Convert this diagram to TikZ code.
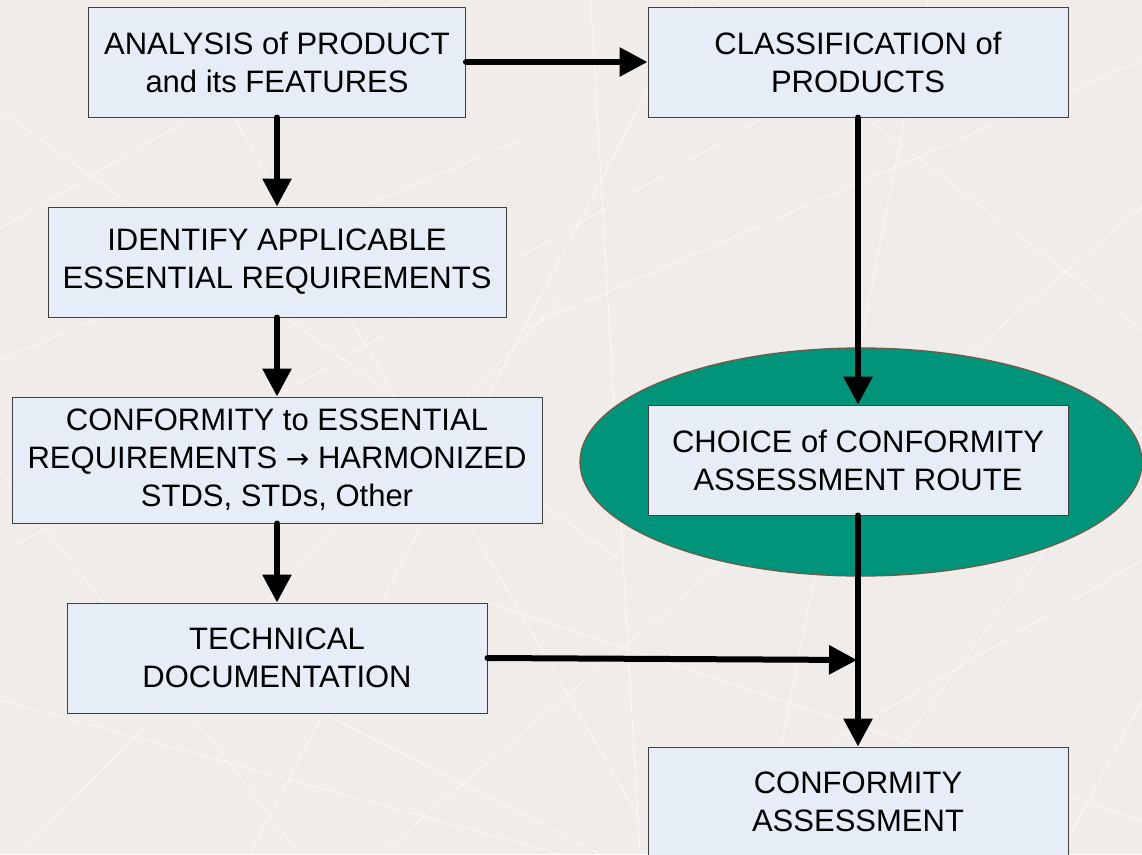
\documentclass[tikz,border=0pt]{standalone}
\usepackage{fontspec}
\setmainfont{Liberation Sans}
\newfontfamily\arrowfont{DejaVu Sans}
\usetikzlibrary{arrows.meta,shapes.geometric}
\definecolor{pagebg}{HTML}{EFECE9}
\definecolor{boxfill}{HTML}{E6EDF7}
\definecolor{boxline}{HTML}{404040}
\definecolor{ovalfill}{HTML}{00947A}
\definecolor{ovalline}{HTML}{6E5C4A}
\tikzset{
  stepbox/.style={draw=boxline, line width=1pt, fill=boxfill, align=center,
    inner sep=0pt, font=\fontsize{31pt}{38pt}\selectfont},
  flow/.style={line width=6pt, line cap=round,
    -{Triangle[length=28pt,width=28pt]}},
  streak/.style={white, line width=0.9pt, opacity=0.6}
}
\begin{document}
\begin{tikzpicture}[x=1pt,y=-1pt]
\useasboundingbox (0,0) rectangle (1142,854);
\fill[pagebg] (0,0) rectangle (1142,854);
% faint crossing streaks on the backdrop
\begin{scope}
\clip (0,0) rectangle (1142,854);
\draw[streak] (-20,240) -- (430,-20);
\draw[streak] (0,110) -- (620,560);
\draw[streak] (160,-10) -- (660,854);
\draw[streak] (-10,560) -- (760,120);
\draw[streak] (20,854) -- (560,300);
\draw[streak] (250,854) -- (700,-10);
\draw[streak] (590,-10) -- (640,854);
\draw[streak] (380,854) -- (1150,200);
\draw[streak] (480,600) -- (1142,820);
\draw[streak] (700,-10) -- (1142,330);
\draw[streak] (820,854) -- (1142,420);
\draw[streak] (930,-10) -- (760,854);
\draw[streak] (1142,60) -- (520,330);
\draw[streak] (0,360) -- (520,140);
\draw[streak] (0,700) -- (560,854);
\draw[streak] (100,600) -- (600,854);
\draw[streak] (1060,854) -- (1142,700);
\draw[streak] (640,854) -- (1142,560);
\draw[streak] (0,470) -- (300,854);
\end{scope}

% oval behind the route choice
\node (oval) [ellipse, draw=ovalline, line width=1.3pt, fill=ovalfill,
  minimum width=562pt, minimum height=228pt, inner sep=0pt] at (861,462) {};

% process boxes
\node (analysis) [stepbox, minimum width=377pt, minimum height=110pt] at (277,62)
  {ANALYSIS of PRODUCT\\and its FEATURES};
\node (classify) [stepbox, minimum width=420pt, minimum height=110pt] at (858,62)
  {CLASSIFICATION of\\PRODUCTS};
\node (identify) [stepbox, minimum width=458pt, minimum height=110pt] at (277,262)
  {IDENTIFY APPLICABLE\\ESSENTIAL REQUIREMENTS};
\node (conform) [stepbox, minimum width=530pt, minimum height=126pt] at (277,460)
  {CONFORMITY to ESSENTIAL\\REQUIREMENTS {\arrowfont\fontsize{28pt}{38pt}\selectfont →} HARMONIZED\\STDS, STDs, Other};
\node (techdoc) [stepbox, minimum width=420pt, minimum height=110pt] at (277,658)
  {TECHNICAL\\DOCUMENTATION};
\node (choice) [stepbox, minimum width=420pt, minimum height=110pt] at (858,460)
  {CHOICE of CONFORMITY\\ASSESSMENT ROUTE};
\node (assess) [stepbox, minimum width=420pt, minimum height=110pt] at (858,802)
  {CONFORMITY\\ASSESSMENT};

\coordinate (join) at (857,660);

% connectors
\draw[flow] (analysis.east) -- (classify.west);
\draw[flow] (analysis.south) -- (identify.north);
\draw[flow] (identify.south) -- (conform.north);
\draw[flow] (conform.south) -- (techdoc.north);
\draw[flow] (classify.south) -- (choice.north);
\draw[flow] (choice.south) -- (assess.north);
\draw[flow] (techdoc.east) -- (join);
\end{tikzpicture}
\end{document}
